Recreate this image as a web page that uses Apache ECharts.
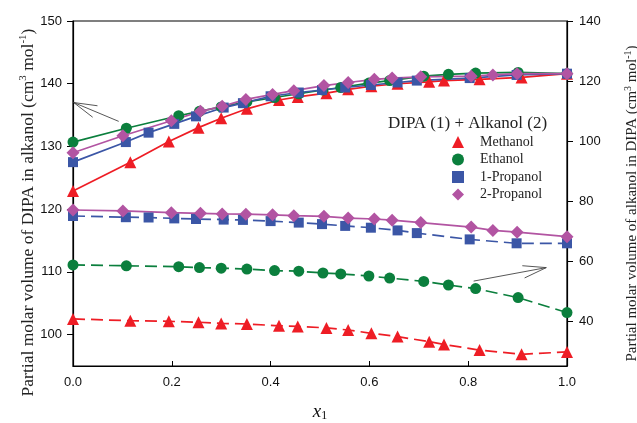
<!DOCTYPE html>
<html><head><meta charset="utf-8">
<script src="https://cdn.jsdelivr.net/npm/echarts@6/dist/echarts.min.js"></script>
<style>html,body{margin:0;padding:0;background:#fff}#c{width:637px;height:423px}</style>
</head><body><div id="c"></div>
<script>
// ---- data ----
const xTicks = [0, 0.2, 0.4, 0.6, 0.8, 1.0];
const leftTicks = [100, 110, 120, 130, 140, 150];
const rightTicks = [40, 60, 80, 100, 120, 140];
const seriesNames = ['Methanol', 'Ethanol', '1-Propanol', '2-Propanol'];

const methanolX = [0, 0.116, 0.194, 0.254, 0.300, 0.352, 0.417, 0.455, 0.513, 0.557, 0.604, 0.657, 0.721, 0.751, 0.823, 0.908, 1.0];
const methanolV1 = [122.9, 127.5, 130.8, 133.0, 134.5, 136.0, 137.4, 137.9, 138.5, 139.1, 139.6, 140.0, 140.3, 140.5, 140.7, 141.0, 141.6];
const methanolV2 = [40.7, 40.1, 39.9, 39.6, 39.2, 39.0, 38.4, 38.2, 37.7, 37.0, 35.9, 34.8, 33.1, 32.2, 30.3, 28.9, 29.7];

const ethanolX = [0, 0.108, 0.214, 0.256, 0.300, 0.352, 0.408, 0.457, 0.506, 0.542, 0.599, 0.641, 0.710, 0.760, 0.815, 0.901, 1.0];
const ethanolV1 = [130.7, 132.9, 134.9, 135.6, 136.3, 137.1, 137.8, 138.4, 139.0, 139.4, 140.1, 140.5, 141.2, 141.5, 141.7, 141.8, 141.6];
const ethanolV2 = [58.7, 58.4, 58.1, 57.8, 57.6, 57.3, 56.8, 56.6, 56.0, 55.7, 55.0, 54.3, 53.2, 52.0, 50.8, 47.8, 42.8];

const propanol1X = [0, 0.107, 0.153, 0.205, 0.249, 0.305, 0.344, 0.400, 0.457, 0.504, 0.551, 0.603, 0.657, 0.696, 0.803, 0.898, 1.0];
const propanol1V1 = [127.5, 130.7, 132.2, 133.6, 134.8, 136.2, 136.9, 138.0, 138.6, 139.0, 139.4, 139.8, 140.2, 140.5, 140.9, 141.4, 141.6];
const propanol1V2 = [75.0, 74.6, 74.5, 74.2, 74.0, 73.8, 73.7, 73.3, 72.8, 72.3, 71.7, 71.1, 70.2, 69.3, 67.2, 65.9, 65.9];

const propanol2X = [0, 0.101, 0.199, 0.258, 0.302, 0.350, 0.404, 0.447, 0.508, 0.557, 0.610, 0.646, 0.704, 0.806, 0.850, 0.899, 1.0];
const propanol2V1 = [129.0, 131.7, 134.1, 135.6, 136.4, 137.5, 138.3, 138.9, 139.7, 140.2, 140.7, 140.9, 141.1, 141.2, 141.4, 141.6, 141.6];
const propanol2V2 = [77.0, 76.7, 76.1, 75.9, 75.7, 75.6, 75.4, 75.1, 74.9, 74.3, 74.0, 73.6, 72.8, 71.3, 70.2, 69.6, 68.1];

// annotation arrows (data coordinates): [tail, tip]
const arrowLeft = [[0.0925, 134.0], [0.0014, 137.0]];
const arrowRight = [[0.811, 53.3], [0.958, 57.8]];

// ---- styling ----
const colors = { red: '#ee1d25', green: '#0b7f3d', blue: '#3b56a6', purple: '#b254a2' };
const SERIF = '"Liberation Serif","Times New Roman",serif';
const SANS = '"Liberation Sans",Arial,sans-serif';

function mk(name, xs, ys, axis, color, symbol, size, dashed) {
  return {
    type: 'line', name: name, yAxisIndex: axis,
    data: xs.map((x, i) => [x, ys[i]]),
    symbol: symbol, symbolSize: size, showSymbol: true,
    lineStyle: { color: color, width: 1.7, type: dashed ? [12, 6] : 'solid' },
    itemStyle: { color: color, opacity: 1 },
    emphasis: { disabled: true }
  };
}

const series = [
  mk('Methanol', methanolX, methanolV1, 0, colors.red, 'triangle', 12, false),
  mk('Ethanol', ethanolX, ethanolV1, 0, colors.green, 'circle', 11, false),
  mk('1-Propanol', propanol1X, propanol1V1, 0, colors.blue, 'rect', 10, false),
  mk('2-Propanol', propanol2X, propanol2V1, 0, colors.purple, 'diamond', 13, false),
  mk('Methanol', methanolX, methanolV2, 1, colors.red, 'triangle', 12, true),
  mk('Ethanol', ethanolX, ethanolV2, 1, colors.green, 'circle', 11, true),
  mk('1-Propanol', propanol1X, propanol1V2, 1, colors.blue, 'rect', 10, true),
  mk('2-Propanol', propanol2X, propanol2V2, 1, colors.purple, 'diamond', 13, false)
];

const supL = { fontFamily: SERIF, fontSize: 11, verticalAlign: 'top', lineHeight: 20, padding: [0, 0, 5, 0] };
const supR = { fontFamily: SERIF, fontSize: 10, verticalAlign: 'top', lineHeight: 18, padding: [0, 0, 4, 0] };

const chart = echarts.init(document.getElementById('c'), null, { renderer: 'canvas' });
chart.setOption({
  animation: false,
  backgroundColor: '#fff',
  grid: { left: 73, right: 70, top: 21, bottom: 57, show: true, borderColor: '#000', borderWidth: 1.2,
          containLabel: false, outerBoundsMode: 'none' },
  xAxis: {
    type: 'value', min: 0, max: 1, interval: 0.2,
    axisLine: { lineStyle: { color: '#000', width: 1.2 } },
    axisTick: { inside: true, length: 5, lineStyle: { color: '#000' } },
    axisLabel: { formatter: v => v.toFixed(1), fontFamily: SANS, fontSize: 13, color: '#111', margin: 10 },
    splitLine: { show: false },
    name: '{i|x}{s|1}', nameLocation: 'middle', nameGap: 36,
    nameTextStyle: { rich: {
      i: { fontFamily: SERIF, fontStyle: 'italic', fontSize: 19, color: '#111' },
      s: { fontFamily: SERIF, fontSize: 12, color: '#111', verticalAlign: 'bottom', padding: [8, 0, 0, 0] }
    } }
  },
  yAxis: [
    {
      type: 'value', position: 'left', min: 95, max: 150,
      axisLine: { show: true, lineStyle: { color: '#000', width: 1.2 } },
      axisTick: { show: true, inside: false, length: 6, customValues: leftTicks, lineStyle: { color: '#000' } },
      axisLabel: { customValues: leftTicks, fontFamily: SANS, fontSize: 13, color: '#111', margin: 11 },
      splitLine: { show: false },
      name: 'Partial molar volume of DIPA in alkanol (cm{sup|3} mol{sup|-1})',
      nameLocation: 'middle', nameRotate: 90, nameGap: 35, nameMoveOverlap: false,
      nameTextStyle: { fontFamily: SERIF, fontSize: 17.5, color: '#222', lineHeight: 20, padding: [0, 38, 0, 0], rich: { sup: supL } }
    },
    {
      type: 'value', position: 'right', min: 25, max: 140,
      axisLine: { show: true, lineStyle: { color: '#000', width: 1.2 } },
      axisTick: { show: true, inside: false, length: 6, customValues: rightTicks, lineStyle: { color: '#000' } },
      axisLabel: { customValues: rightTicks, fontFamily: SANS, fontSize: 13, color: '#111', margin: 12 },
      splitLine: { show: false },
      name: 'Partial molar volume of alkanol in DIPA (cm{sup|3} mol{sup|-1})',
      nameLocation: 'middle', nameRotate: 90, nameGap: 56,
      nameTextStyle: { fontFamily: SERIF, fontSize: 15, color: '#222', lineHeight: 18, padding: [0, 20, 0, 0], rich: { sup: supR } }
    }
  ],
  legend: {
    orient: 'vertical', left: 447, top: 130,
    itemWidth: 12, itemHeight: 12, itemGap: 3.5,
    selectedMode: false,
    data: [
      { name: 'Methanol', icon: 'triangle' },
      { name: 'Ethanol', icon: 'circle' },
      { name: '1-Propanol', icon: 'rect' },
      { name: '2-Propanol', icon: 'diamond' }
    ],
    textStyle: { fontFamily: SERIF, fontSize: 14, color: '#222', lineHeight: 14, padding: [0, 0, 0, 11] }
  },
  series: series,
  graphic: [
    { id: 'legendTitle', type: 'text', left: 388, top: 115,
      style: { text: 'DIPA (1) + Alkanol (2)', font: '17px ' + SERIF, fill: '#222' } }
  ]
});

function arrowGraphics(id, pts, axisIdx) {
  const tail = chart.convertToPixel({ xAxisIndex: 0, yAxisIndex: axisIdx }, pts[0]);
  const tip = chart.convertToPixel({ xAxisIndex: 0, yAxisIndex: axisIdx }, pts[1]);
  const dx = tail[0] - tip[0], dy = tail[1] - tip[1];
  const L = Math.hypot(dx, dy), ux = dx / L, uy = dy / L;
  const len = 24, a = 15 * Math.PI / 180;
  const h1 = [tip[0] + len * (ux * Math.cos(a) - uy * Math.sin(a)), tip[1] + len * (ux * Math.sin(a) + uy * Math.cos(a))];
  const h2 = [tip[0] + len * (ux * Math.cos(-a) - uy * Math.sin(-a)), tip[1] + len * (ux * Math.sin(-a) + uy * Math.cos(-a))];
  const st = { stroke: '#444', lineWidth: 0.9, fill: null };
  return [
    { id: id + 's', type: 'polyline', shape: { points: [tail, tip] }, style: st, silent: true, z: 50 },
    { id: id + 'h', type: 'polyline', shape: { points: [h1, tip, h2] }, style: st, silent: true, z: 50 }
  ];
}
chart.setOption({ graphic: arrowGraphics('al', arrowLeft, 0).concat(arrowGraphics('ar', arrowRight, 1)) });
</script></body></html>
